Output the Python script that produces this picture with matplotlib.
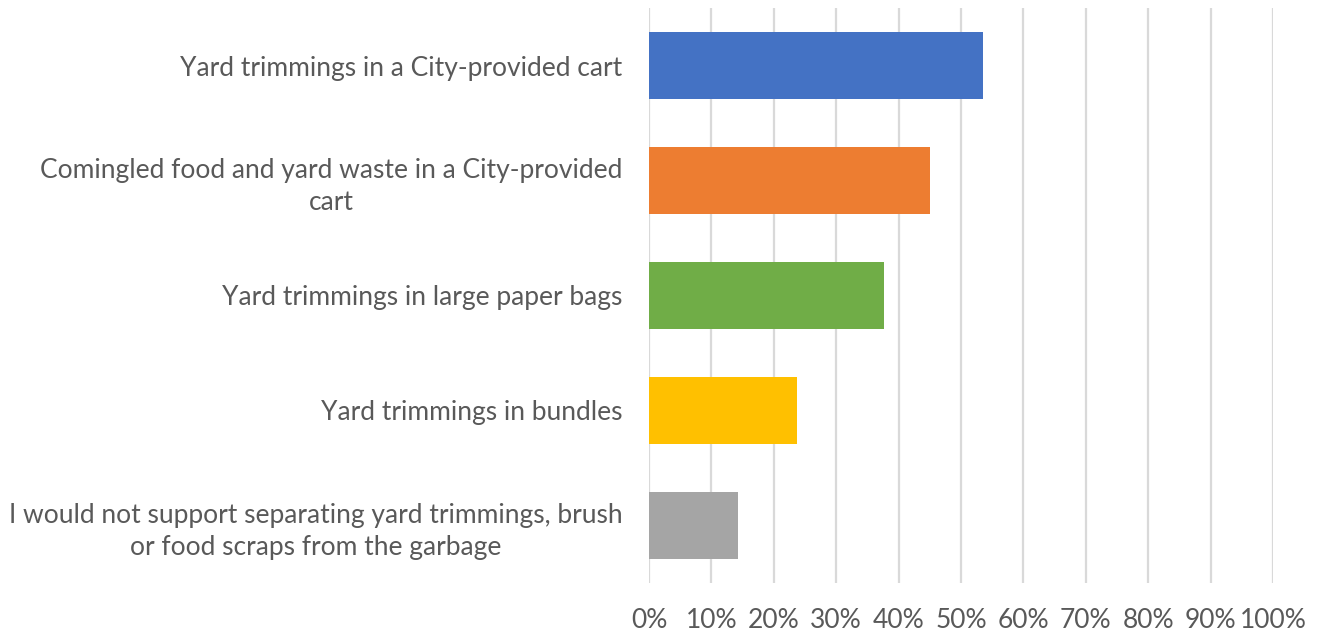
import matplotlib.pyplot as plt
from matplotlib.ticker import PercentFormatter

# survey answers, top to bottom
categories = [
    "Yard trimmings in a City-provided cart",
    "Comingled food and yard waste in a City-provided\ncart",
    "Yard trimmings in large paper bags",
    "Yard trimmings in bundles",
    "I would not support separating yard trimmings, brush\nor food scraps from the garbage",
]
shares = [53.6, 45.0, 37.7, 23.7, 14.2]
colors = ["#4472c4", "#ed7d31", "#70ad47", "#ffc000", "#a5a5a5"]

plt.rcParams["font.family"] = ["Lato", "DejaVu Sans"]
text_color = "#595959"

fig = plt.figure(figsize=(13.2, 6.35), dpi=100)
ax = fig.add_axes([0.4917, 0.0819, 0.4727, 0.9055])

ypos = list(range(len(categories)))
ax.barh(ypos, shares, height=0.58, color=colors, zorder=2)

ax.set_xlim(0, 100)
ax.set_ylim(len(categories) - 0.5, -0.5)
ax.set_xticks(range(0, 101, 10))
ax.xaxis.set_major_formatter(PercentFormatter(decimals=0))
ax.set_yticks(ypos)
ax.set_yticklabels(categories, multialignment="center", linespacing=1.33)

ax.grid(axis="x", color="#d9d9d9", linewidth=1.6, zorder=0)
for s in ax.spines.values():
    s.set_visible(False)

ax.tick_params(axis="y", length=0, pad=19, labelsize=19, labelcolor=text_color)
ax.tick_params(axis="x", length=0, pad=18, labelsize=19, labelcolor=text_color)

fig.savefig("out.png", dpi=100)
